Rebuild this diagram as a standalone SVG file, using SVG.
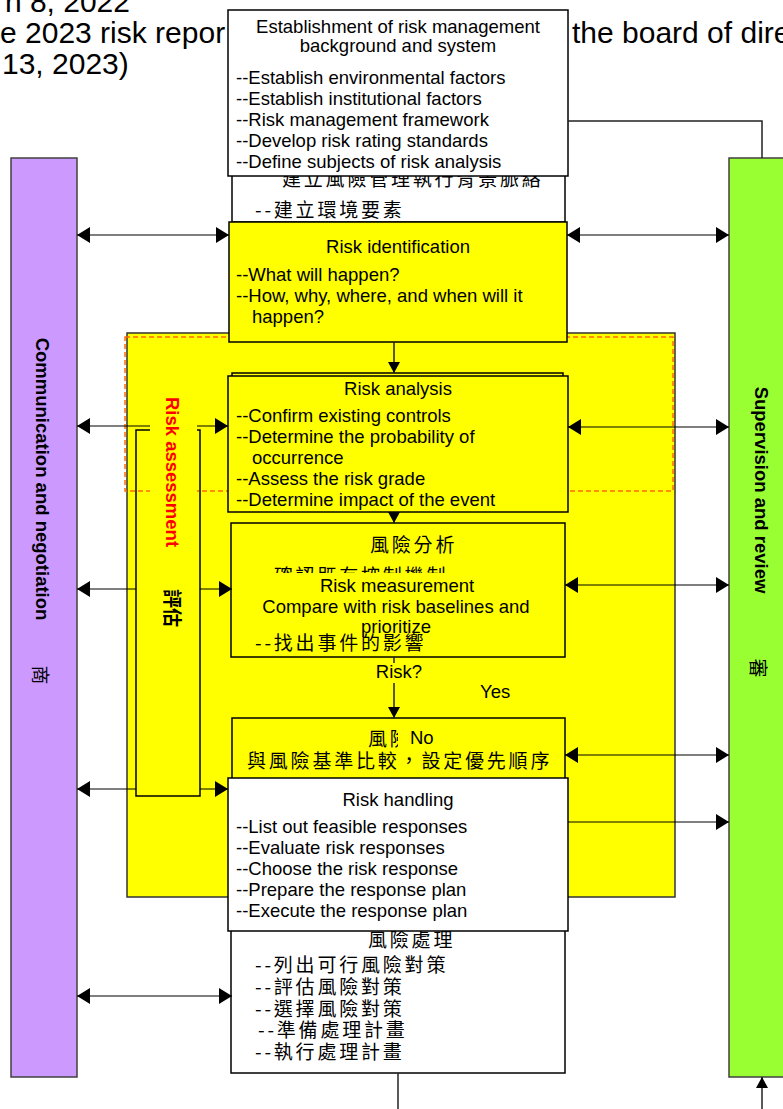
<svg xmlns="http://www.w3.org/2000/svg" width="783" height="1109" viewBox="0 0 783 1109">
<style>
.en{font-family:"Liberation Sans",Arial,sans-serif;font-size:18.5px;fill:#000}
.big{font-family:"Liberation Sans",Arial,sans-serif;font-size:30px;fill:#000}
.zh{font-family:"Noto Sans CJK TC","Noto Sans CJK SC",sans-serif;font-size:19px;letter-spacing:2.8px;fill:#000}
.box{stroke:#000;stroke-width:1.5}
.y{fill:#ffff00}
.w{fill:#ffffff}
.side{stroke:#000;stroke-opacity:0.5;stroke-width:2;fill:none}
.flow{stroke:#222;stroke-width:1.5;fill:none}
.lab{font-family:"Liberation Sans",Arial,sans-serif;font-size:18.5px;font-weight:bold}
.mid{text-anchor:middle}
</style>
<defs>
<marker id="ah" viewBox="0 0 13 16" refX="13" refY="8" markerWidth="13" markerHeight="16" markerUnits="userSpaceOnUse" orient="auto-start-reverse"><path d="M0,0 L13,8 L0,16 z" fill="#000"/></marker>
<marker id="as" viewBox="0 0 11 12" refX="11" refY="6" markerWidth="11" markerHeight="12" markerUnits="userSpaceOnUse" orient="auto"><path d="M0,0 L11,6 L0,12 z" fill="#000"/></marker>
</defs>
<rect width="783" height="1109" fill="#fff"/>

<g id="header-text">
<text class="big" x="130" y="12" text-anchor="end">h 8, 2022</text>
<text class="big" x="0" y="43">e 2023 risk repor</text>
<text class="big" x="572" y="43">the board of dire</text>
<text class="big" x="2" y="74">13, 2023)</text>
</g>

<g id="communication">
<rect x="11" y="158" width="66" height="919" fill="#cc99ff" stroke="#404040" stroke-width="1.5"/>
<text class="lab mid" transform="translate(42,479) rotate(90)" dominant-baseline="central">Communication and negotiation</text>
<text class="zh" style="letter-spacing:0" font-size="17" text-anchor="middle" dominant-baseline="central" transform="translate(41,675) rotate(90)">商</text>
</g>

<g id="supervision">
<rect x="729" y="158" width="70" height="919" fill="#99ff33" stroke="#404040" stroke-width="1.5"/>
<text class="lab mid" transform="translate(761,490) rotate(90)" dominant-baseline="central">Supervision and review</text>
<text class="zh" style="letter-spacing:0" font-size="17" text-anchor="middle" dominant-baseline="central" transform="translate(759,668) rotate(90)">審</text>
</g>

<g id="background-zh">
<rect class="box w" x="232" y="100" width="333" height="122"/>
<text class="zh" x="282" y="186">建立風險管理執行背景脈絡</text>
<text class="zh" x="255" y="217">--建立環境要素</text>
</g>

<g id="background">
<rect class="box w" x="228" y="10" width="340" height="166"/>
<text class="en mid" x="398" y="33" font-size="18">Establishment of risk management</text>
<text class="en mid" x="398" y="52" font-size="18">background and system</text>
<text class="en" x="236" y="84">--Establish environmental factors</text>
<text class="en" x="236" y="105">--Establish institutional factors</text>
<text class="en" x="236" y="126">--Risk management framework</text>
<text class="en" x="236" y="147">--Develop risk rating standards</text>
<text class="en" x="236" y="168">--Define subjects of risk analysis</text>
</g>

<g id="assessment-area">
<rect x="127" y="333" width="548" height="564" fill="#ffff00" stroke="#333" stroke-width="1.5"/>
<rect x="125" y="337" width="548" height="154" fill="none" stroke="#ff6a00" stroke-width="1.5" stroke-dasharray="5 3"/>
</g>

<g id="identification">
<rect class="box y" x="229" y="222" width="338" height="120"/>
<text class="en mid" x="398" y="253">Risk identification</text>
<text class="en" x="236" y="281">--What will happen?</text>
<text class="en" x="236" y="302">--How, why, where, and when will it</text>
<text class="en" x="252" y="323">happen?</text>
</g>

<g id="analysis">
<rect class="box y" x="232" y="373" width="331" height="130"/>
<rect class="box y" x="228" y="376" width="340" height="136"/>
<text class="en mid" x="398" y="395">Risk analysis</text>
<text class="en" x="236" y="422">--Confirm existing controls</text>
<text class="en" x="236" y="443">--Determine the probability of</text>
<text class="en" x="252" y="464">occurrence</text>
<text class="en" x="236" y="485">--Assess the risk grade</text>
<text class="en" x="236" y="506">--Determine impact of the event</text>
</g>

<g id="measurement">
<rect class="box y" x="231" y="523" width="334" height="134"/>
<text class="zh" x="370" y="552">風險分析</text>
<text class="zh" x="255" y="583">--確認既有控制機制</text>
<text class="zh" x="255" y="650">--找出事件的影響</text>
<rect x="236" y="573" width="322" height="45" fill="#ffff00"/>
<text class="en mid" x="397" y="592">Risk measurement</text>
<text class="en mid" x="396" y="613">Compare with risk baselines and</text>
<text class="en mid" x="396" y="633">prioritize</text>
</g>

<g id="decision-labels">
<text class="en mid" x="399" y="678">Risk?</text>
<text class="en" x="480" y="698">Yes</text>
</g>

<g id="evaluation">
<rect class="box y" x="232" y="718" width="333" height="80"/>
<text class="zh" x="368" y="746">風險</text>
<rect x="398" y="726" width="44" height="24" fill="#ffff00"/>
<text class="en" x="410" y="744">No</text>
<text class="zh" x="247" y="768">與風險基準比較，設定優先順序</text>
</g>

<g id="handling-zh">
<rect class="box w" x="231" y="900" width="334" height="173"/>
<text class="zh" x="368" y="947">風險處理</text>
<text class="zh" x="255" y="972">--列出可行風險對策</text>
<text class="zh" x="255" y="994">--評估風險對策</text>
<text class="zh" x="255" y="1016">--選擇風險對策</text>
<text class="zh" x="258" y="1037">--準備處理計畫</text>
<text class="zh" x="255" y="1059">--執行處理計畫</text>
</g>

<g id="handling">
<rect class="box w" x="228" y="778" width="340" height="153"/>
<text class="en mid" x="398" y="806">Risk handling</text>
<text class="en" x="236" y="833">--List out feasible responses</text>
<text class="en" x="236" y="854">--Evaluate risk responses</text>
<text class="en" x="236" y="875">--Choose the risk response</text>
<text class="en" x="236" y="896">--Prepare the response plan</text>
<text class="en" x="236" y="917">--Execute the response plan</text>
</g>

<g id="connectors">
<path class="side" d="M77,235 H229" marker-start="url(#ah)" marker-end="url(#ah)"/>
<path class="side" d="M77,426 H228" marker-start="url(#ah)" marker-end="url(#ah)"/>
<path class="side" d="M77,589 H136 M200,589 H232" marker-start="url(#ah)" marker-end="url(#ah)"/>
<path class="side" d="M77,789 H136 M200,789 H228" marker-start="url(#ah)" marker-end="url(#ah)"/>
<path class="side" d="M77,996 H232" marker-start="url(#ah)" marker-end="url(#ah)"/>
<path class="side" d="M567,235 H729" marker-start="url(#ah)" marker-end="url(#ah)"/>
<path class="side" d="M568,427 H729" marker-start="url(#ah)" marker-end="url(#ah)"/>
<path class="side" d="M565,585 H729" marker-start="url(#ah)" marker-end="url(#ah)"/>
<path class="side" d="M565,755 H729" marker-start="url(#ah)" marker-end="url(#ah)"/>
<path class="side" d="M568,822 H729" marker-end="url(#ah)"/>
<path class="flow" d="M568,121 H762 V158"/>
<path class="flow" d="M394,342 V373" marker-end="url(#as)"/>
<path class="flow" d="M394,512 V523" marker-end="url(#as)"/>
<path class="flow" d="M394,657 V663"/>
<path class="flow" d="M394,683 V718" marker-end="url(#as)"/>
<path class="flow" d="M398,1073 V1109"/>
<path class="flow" d="M762,1109 V1077" marker-end="url(#as)"/>
</g>

<g id="risk-assessment-label">
<rect x="136" y="430" width="64" height="366" fill="none" stroke="#000" stroke-width="1.5"/>
<rect x="150" y="393" width="47" height="240" fill="#ffff00"/>
<text class="lab mid" fill="#ff0000" transform="translate(172,472) rotate(90)" dominant-baseline="central">Risk assessment</text>
<text class="zh" style="letter-spacing:0;font-weight:bold" fill="#ff0000" font-size="17" text-anchor="middle" dominant-baseline="central" transform="translate(173,608) rotate(90)">評估</text>
</g>
</svg>
